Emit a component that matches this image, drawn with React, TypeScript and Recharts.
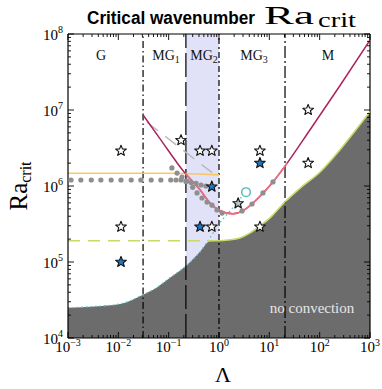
import React from "react";
import { ComposedChart, XAxis, YAxis, Area, Line, Scatter, ReferenceLine } from "recharts";

const SERIF = '"Liberation Serif", "DejaVu Serif", serif';
const SANS = '"Liberation Sans", Arial, sans-serif';

// axis decades
const xMajor = [1e-3, 1e-2, 1e-1, 1, 10, 100, 1000];
const xExp = ["−3", "−2", "−1", "0", "1", "2", "3"];
const yMajor = [1e4, 1e5, 1e6, 1e7, 1e8];
const yExp = ["4", "5", "6", "7", "8"];
const minorMult = [2, 3, 4, 5, 6, 7, 8, 9];

// regime boundaries (Λ)
const regimeBounds = [0.031, 0.22, 1.0, 20.5];
const mg2Band = [
  { x: 0.22, y: 1e8 },
  { x: 1.0, y: 1e8 },
];

// no-convection boundary
const noConvection = [
  { x: 0.001, y: 2.5e4 }, { x: 0.0034, y: 2.6e4 }, { x: 0.0108, y: 2.8e4 },
  { x: 0.031, y: 3.7e4 }, { x: 0.049, y: 4.3e4 }, { x: 0.106, y: 6.2e4 },
  { x: 0.231, y: 9.1e4 }, { x: 0.42, y: 1.36e5 }, { x: 0.66, y: 1.87e5 },
  { x: 0.95, y: 1.9e5 }, { x: 1.5, y: 1.95e5 }, { x: 2.6, y: 2.07e5 },
  { x: 4.1, y: 2.4e5 }, { x: 6.5, y: 2.98e5 }, { x: 10.3, y: 3.8e5 },
  { x: 20.5, y: 6.2e5 }, { x: 41, y: 9.4e5 }, { x: 102, y: 1.53e6 },
  { x: 254, y: 3.0e6 }, { x: 504, y: 5.3e6 }, { x: 1000, y: 9.5e6 },
];
const greenEdge = [
  { x: 0.95, y: 1.9e5 }, { x: 1.5, y: 1.95e5 }, { x: 2.6, y: 2.07e5 },
  { x: 4.1, y: 2.4e5 }, { x: 6.5, y: 2.98e5 }, { x: 10.3, y: 3.8e5 },
  { x: 20.5, y: 6.2e5 }, { x: 41, y: 9.4e5 }, { x: 102, y: 1.53e6 },
  { x: 254, y: 3.0e6 }, { x: 504, y: 5.3e6 }, { x: 1000, y: 9.5e6 },
];
const greenFlat = [
  { x: 0.001, y: 1.9e5 },
  { x: 0.95, y: 1.9e5 },
];

const cyanDotted = [
  { x: 0.001, y: 2.5e4 }, { x: 0.0034, y: 2.6e4 }, { x: 0.0108, y: 2.8e4 },
  { x: 0.031, y: 3.7e4 }, { x: 0.049, y: 4.3e4 }, { x: 0.106, y: 6.2e4 },
  { x: 0.231, y: 9.1e4 }, { x: 0.42, y: 1.36e5 }, { x: 0.76, y: 2.4e5 },
  { x: 1.0, y: 3.16e5 }, { x: 1.66, y: 4.7e5 }, { x: 3.0, y: 7.6e5 },
];
const tealCircle = [{ x: 3.44, y: 8.3e5 }];

const orangeLine = [
  { x: 0.001, y: 1.47e6 }, { x: 0.1, y: 1.47e6 },
  { x: 0.4, y: 1.44e6 }, { x: 1.0, y: 1.4e6 },
];
const grayDashed = [
  { x: 0.037, y: 6.9e6 },
  { x: 0.73, y: 1.5e6 },
];

const crimsonCurve = [
  { x: 0.031, y: 8.6e6 }, { x: 0.067, y: 4.2e6 }, { x: 0.21, y: 1.48e6 },
  { x: 0.42, y: 8.9e5 }, { x: 0.66, y: 6.0e5 }, { x: 1.0, y: 4.8e5 },
  { x: 1.9, y: 4.3e5 }, { x: 2.97, y: 4.7e5 }, { x: 4.5, y: 5.8e5 },
  { x: 7.2, y: 7.85e5 }, { x: 11.8, y: 1.13e6 }, { x: 22.6, y: 2.0e6 },
  { x: 64.5, y: 5.5e6 }, { x: 254, y: 2.1e7 }, { x: 1000, y: 8.3e7 },
];
const pinkCurve = [
  { x: 0.21, y: 1.48e6 }, { x: 0.42, y: 8.9e5 }, { x: 0.66, y: 6.0e5 },
  { x: 1.0, y: 4.8e5 }, { x: 1.9, y: 4.3e5 }, { x: 2.97, y: 4.7e5 },
  { x: 4.5, y: 5.8e5 }, { x: 7.2, y: 7.85e5 }, { x: 11.8, y: 1.13e6 },
  { x: 22.6, y: 2.0e6 },
];

const grayDots = [
  { x: 0.00115, y: 1.2e6 }, { x: 0.0018, y: 1.2e6 }, { x: 0.0029, y: 1.2e6 },
  { x: 0.0045, y: 1.2e6 }, { x: 0.0072, y: 1.2e6 }, { x: 0.0113, y: 1.2e6 },
  { x: 0.018, y: 1.2e6 }, { x: 0.028, y: 1.2e6 }, { x: 0.045, y: 1.2e6 },
  { x: 0.07, y: 1.2e6 }, { x: 0.11, y: 1.2e6 }, { x: 0.14, y: 1.2e6 },
  { x: 0.176, y: 1.2e6 }, { x: 0.22, y: 1.15e6 }, { x: 0.28, y: 1.11e6 },
  { x: 0.35, y: 1.08e6 }, { x: 0.44, y: 1.03e6 }, { x: 0.55, y: 1.0e6 },
  { x: 0.116, y: 1.73e6 }, { x: 0.147, y: 1.48e6 }, { x: 0.184, y: 1.31e6 },
  { x: 0.231, y: 1.16e6 }, { x: 0.3, y: 9.6e5 }, { x: 0.366, y: 8.1e5 },
  { x: 0.459, y: 6.95e5 }, { x: 0.578, y: 6.15e5 }, { x: 0.726, y: 5.6e5 },
  { x: 0.912, y: 4.83e5 }, { x: 1.15, y: 4.4e5 }, { x: 2.87, y: 4.7e5 },
  { x: 4.53, y: 5.8e5 }, { x: 7.48, y: 8.1e5 }, { x: 11.8, y: 1.13e6 },
];

const whiteStars = [
  { x: 0.0113, y: 2.9e6 }, { x: 0.0113, y: 2.9e5 }, { x: 0.176, y: 4.0e6 },
  { x: 0.42, y: 2.9e6 }, { x: 0.72, y: 2.9e6 }, { x: 6.5, y: 2.9e6 },
  { x: 59, y: 2.0e6 }, { x: 59, y: 1.0e7 }, { x: 0.72, y: 2.9e5 },
  { x: 6.5, y: 2.9e5 },
];
const greyStars = [{ x: 2.4, y: 5.9e5 }];
const blueStars = [
  { x: 0.0113, y: 1.0e5 }, { x: 6.5, y: 2.0e6 },
  { x: 0.72, y: 9.8e5 }, { x: 0.42, y: 2.9e5 },
];

const regimeLabels = [
  { text: "G", sub: "", x: 101 },
  { text: "MG", sub: "1", x: 166 },
  { text: "MG", sub: "2", x: 204 },
  { text: "MG", sub: "3", x: 254 },
  { text: "M", sub: "", x: 328 },
];

const PLOT = { left: 68, right: 370, top: 34, bottom: 338 };

const xTicks = xMajor.concat(
  xMajor.slice(0, -1).flatMap((d) => minorMult.map((m) => m * d))
);
const yTicks = yMajor.concat(
  yMajor.slice(0, -1).flatMap((d) => minorMult.map((m) => m * d))
);

const majorIndex = (list: number[], v: number) =>
  list.findIndex((m) => Math.abs(m - v) / m < 1e-9);

function XTick(props: any) {
  const { x, payload } = props;
  const i = majorIndex(xMajor, payload.value);
  const len = i >= 0 ? 6 : 3;
  return (
    <g>
      <line x1={x} x2={x} y1={PLOT.bottom} y2={PLOT.bottom - len} stroke="#000" strokeWidth={0.9} />
      <line x1={x} x2={x} y1={PLOT.top} y2={PLOT.top + len} stroke="#000" strokeWidth={0.9} />
      {i >= 0 && (
        <text x={x} y={352} textAnchor="middle" fontFamily={SERIF} fontSize={15} fill="#000">
          10<tspan dy={-6} fontSize={10}>{xExp[i]}</tspan>
        </text>
      )}
    </g>
  );
}

function YTick(props: any) {
  const { y, payload } = props;
  const i = majorIndex(yMajor, payload.value);
  const len = i >= 0 ? 6 : 3;
  return (
    <g>
      <line x1={PLOT.left} x2={PLOT.left + len} y1={y} y2={y} stroke="#000" strokeWidth={0.9} />
      <line x1={PLOT.right} x2={PLOT.right - len} y1={y} y2={y} stroke="#000" strokeWidth={0.9} />
      {i >= 0 && (
        <text x={63} y={y + 6} textAnchor="end" fontFamily={SERIF} fontSize={15} fill="#000">
          10<tspan dy={-7} fontSize={10}>{yExp[i]}</tspan>
        </text>
      )}
    </g>
  );
}

function starPath(cx: number, cy: number, R: number, r: number) {
  let d = "";
  for (let k = 0; k < 10; k++) {
    const a = -Math.PI / 2 + (k * Math.PI) / 5;
    const rad = k % 2 === 0 ? R : r;
    d += (k === 0 ? "M" : "L") + (cx + rad * Math.cos(a)).toFixed(2) + "," + (cy + rad * Math.sin(a)).toFixed(2);
  }
  return d + "Z";
}

const star = (fill: string) => (p: any) =>
  <path d={starPath(p.cx, p.cy, 5.6, 2.4)} fill={fill} stroke="#111" strokeWidth={1.1} strokeLinejoin="round" />;

export default function App() {
  return (
    <div style={{ position: "absolute", left: 0, top: 0, width: 382, height: 389, background: "#fff" }}>
      <ComposedChart width={382} height={389} margin={{ top: 34, right: 12, bottom: 0, left: 0 }}>
        <XAxis
          dataKey="x"
          type="number"
          scale="log"
          domain={[1e-3, 1e3]}
          allowDataOverflow
          ticks={xTicks}
          interval={0}
          tick={(p: any) => <XTick {...p} />}
          tickLine={false}
          tickSize={0}
          height={51}
          axisLine={{ stroke: "#000", strokeWidth: 1.2 }}
        />
        <YAxis
          dataKey="y"
          type="number"
          scale="log"
          domain={[1e4, 1e8]}
          allowDataOverflow
          ticks={yTicks}
          interval={0}
          tick={(p: any) => <YTick {...p} />}
          tickLine={false}
          tickSize={0}
          width={68}
          axisLine={{ stroke: "#000", strokeWidth: 1.2 }}
        />

        <Area data={mg2Band} dataKey="y" type="linear" baseValue={1e4} fill="#e1e1f7" fillOpacity={1} stroke="none" isAnimationActive={false} />
        <Area data={noConvection} dataKey="y" type="monotone" baseValue={1e4} fill="#6c6c6c" fillOpacity={1} stroke="none" isAnimationActive={false} />

        {regimeBounds.map((b, i) => (
          <ReferenceLine
            key={b}
            x={b}
            stroke="#000"
            strokeWidth={1.2}
            strokeDasharray={["7 3 1.5 3", "24 5", "6 3 2 3", "12 3 2 3"][i]}
          />
        ))}
        <ReferenceLine x={1000} stroke="#000" strokeWidth={1.2} />
        <ReferenceLine y={1e8} stroke="#000" strokeWidth={1.2} />

        <Line data={cyanDotted} dataKey="y" type="monotone" stroke="#5fc0c4" strokeWidth={1.3} strokeDasharray="1.5 3" dot={false} isAnimationActive={false} />
        <Line data={greenFlat} dataKey="y" type="linear" stroke="#c8da68" strokeWidth={1.6} strokeDasharray="12 8" dot={false} isAnimationActive={false} />
        <Line data={greenEdge} dataKey="y" type="monotone" stroke="#c8da68" strokeWidth={1.6} dot={false} isAnimationActive={false} />
        <Line data={orangeLine} dataKey="y" type="monotone" stroke="#f9c763" strokeWidth={1.6} dot={false} isAnimationActive={false} />
        <Line data={grayDashed} dataKey="y" type="linear" stroke="#b8b8b8" strokeWidth={1.4} strokeDasharray="14 9" dot={false} isAnimationActive={false} />
        <Line data={crimsonCurve} dataKey="y" type="monotone" stroke="#a8245e" strokeWidth={1.5} dot={false} isAnimationActive={false} />
        <Line data={pinkCurve} dataKey="y" type="monotone" stroke="#f26d7d" strokeWidth={1.6} dot={false} isAnimationActive={false} />

        <Scatter data={grayDots} isAnimationActive={false} shape={(p: any) => <circle cx={p.cx} cy={p.cy} r={2.6} fill="#8f8f8f" />} />
        <Scatter data={tealCircle} isAnimationActive={false} shape={(p: any) => <circle cx={p.cx} cy={p.cy} r={4.3} fill="none" stroke="#4fb8b8" strokeWidth={1.4} />} />
        <Scatter data={whiteStars} isAnimationActive={false} shape={star("#fff")} />
        <Scatter data={greyStars} isAnimationActive={false} shape={star("#b9c6c6")} />
        <Scatter data={blueStars} isAnimationActive={false} shape={star("#1f77c0")} />
      </ComposedChart>

      <svg width={382} height={389} style={{ position: "absolute", left: 0, top: 0, pointerEvents: "none" }}>
        <text x={87} y={24} fontFamily={SANS} fontWeight="bold" fontSize={18} fill="#000" textLength={168} lengthAdjust="spacingAndGlyphs">
          Critical wavenumber
        </text>
        <text x={264} y={24} fontFamily={SERIF} fontSize={25} fill="#000" textLength={50} lengthAdjust="spacingAndGlyphs">Ra</text>
        <text x={318} y={27} fontFamily={SERIF} fontSize={20} fill="#000" textLength={38} lengthAdjust="spacingAndGlyphs">crit</text>
        <text transform="rotate(-90)" x={-186} y={27} textAnchor="middle" fontFamily={SERIF} fontSize={25} fill="#000">
          Ra<tspan fontSize={16} dy={4}>crit</tspan>
        </text>
        <text x={223} y={382} textAnchor="middle" fontFamily={SERIF} fontSize={22} fill="#000">Λ</text>
        {regimeLabels.map((r) => (
          <text key={r.text + r.sub} x={r.x} y={60} textAnchor="middle" fontFamily={SERIF} fontSize={14} fill="#111">
            {r.text}
            {r.sub && <tspan fontSize={10} dy={3}>{r.sub}</tspan>}
          </text>
        ))}
        <text x={312} y={313} textAnchor="middle" fontFamily={SERIF} fontSize={15} fill="#e6e6e6">no convection</text>
      </svg>
    </div>
  );
}
